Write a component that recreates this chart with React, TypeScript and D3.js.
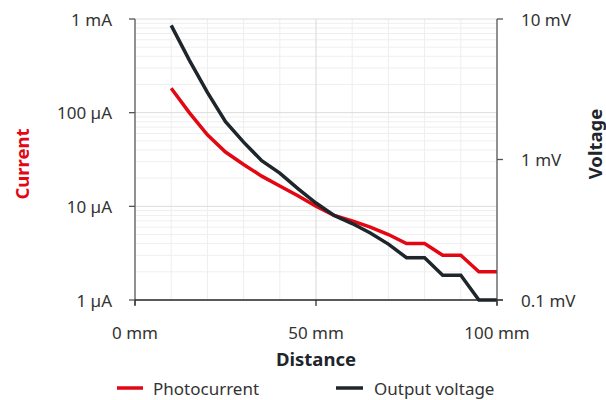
import React from "react";
import * as d3 from "d3";

const distances = [10, 15, 20, 25, 30, 35, 40, 45, 50, 55, 60, 65, 70, 75, 80, 85, 90, 95, 100];
const photocurrentUA = [182, 100, 58, 38, 28, 21, 16.5, 13, 10, 8, 7, 6, 5, 4, 4, 3, 3, 2, 2];
const outputVoltageMV = [9.0, 5.1, 3.0, 1.86, 1.33, 0.98, 0.8, 0.62, 0.49, 0.4, 0.35, 0.3, 0.25, 0.2, 0.2, 0.15, 0.15, 0.1, 0.1];

const xTicks = [0, 50, 100];
const xTickLabels = ["0 mm", "50 mm", "100 mm"];
const leftTicks = [1, 10, 100, 1000];
const leftTickLabels = ["1 µA", "10 µA", "100 µA", "1 mA"];
const rightTicks = [0.1, 1, 10];
const rightTickLabels = ["0.1 mV", "1 mV", "10 mV"];

const RED = "#e30613";
const DARK = "#1e252b";
const FONT = "'Noto Sans', 'Open Sans', sans-serif";

export default function App() {
  const W = 606, H = 400;
  const L = 135, R = 497, T = 19, B = 300;
  const x = d3.scaleLinear().domain([0, 100]).range([L, R]);
  const yL = d3.scaleLog().domain([1, 1000]).range([B, T]);
  const yR = d3.scaleLog().domain([0.1, 10]).range([B, T]);

  const minorL: number[] = [];
  for (const dec of [1, 10, 100]) for (let m = 2; m <= 9; m++) minorL.push(dec * m);
  const vGrid = d3.range(10, 100, 10);

  const lineI = d3.line<number>().x((_, i) => x(distances[i])).y((d) => yL(d));
  const lineV = d3.line<number>().x((_, i) => x(distances[i])).y((d) => yR(d));

  return (
    <svg width={W} height={H} style={{ position: "absolute", left: 0, top: 0 }} fontFamily={FONT}>
      <rect x={0} y={0} width={W} height={H} fill="#fff" />
      {minorL.map((v) => (
        <line key={"m" + v} x1={L} x2={R} y1={yL(v)} y2={yL(v)} stroke="#efefef" strokeWidth={1} />
      ))}
      {vGrid.map((v) => (
        <line key={"v" + v} x1={x(v)} x2={x(v)} y1={T} y2={B} stroke={v === 50 ? "#d8d8d8" : "#eeeeee"} strokeWidth={1} />
      ))}
      {leftTicks.slice(1).map((v) => (
        <line key={"M" + v} x1={L} x2={R} y1={yL(v)} y2={yL(v)} stroke="#dcdcdc" strokeWidth={1} />
      ))}

      <path d={lineI(photocurrentUA) || ""} fill="none" stroke={RED} strokeWidth={3.5} strokeLinejoin="miter" />
      <path d={lineV(outputVoltageMV) || ""} fill="none" stroke={DARK} strokeWidth={3.5} strokeLinejoin="miter" />

      <line x1={L} x2={L} y1={T} y2={B + 5} stroke="#555" strokeWidth={1.3} />
      <line x1={R} x2={R} y1={T} y2={B + 5} stroke="#555" strokeWidth={1.3} />
      <line x1={L} x2={R + 6} y1={B} y2={B} stroke="#222" strokeWidth={1.3} />
      {leftTicks.map((v, i) => (
        <g key={"lt" + v}>
          <line x1={L - 6} x2={L} y1={yL(v)} y2={yL(v)} stroke="#555" strokeWidth={1.3} />
          <text x={L - 23} y={yL(v)} textAnchor="end" dominantBaseline="central" fontSize={17} fill="#333">
            {leftTickLabels[i]}
          </text>
        </g>
      ))}
      {rightTicks.map((v, i) => (
        <g key={"rt" + v}>
          <line x1={R} x2={R + 6} y1={yR(v)} y2={yR(v)} stroke="#555" strokeWidth={1.3} />
          <text x={R + 24} y={yR(v)} textAnchor="start" dominantBaseline="central" fontSize={17} fill="#333">
            {rightTickLabels[i]}
          </text>
        </g>
      ))}
      {xTicks.map((v, i) => (
        <g key={"xt" + v}>
          <line x1={x(v)} x2={x(v)} y1={B} y2={B + 6} stroke="#333" strokeWidth={1.3} />
          <text x={x(v)} y={B + 32} textAnchor="middle" dominantBaseline="central" fontSize={17} fill="#333">
            {xTickLabels[i]}
          </text>
        </g>
      ))}

      <text transform={`translate(21,164) rotate(-90)`} textAnchor="middle" dominantBaseline="central" fontSize={18.5} fontWeight="bold" fill={RED}>
        Current
      </text>
      <text transform={`translate(594,144) rotate(-90)`} textAnchor="middle" dominantBaseline="central" fontSize={18.5} fontWeight="bold" fill={DARK}>
        Voltage
      </text>
      <text x={x(50)} y={358} textAnchor="middle" dominantBaseline="central" fontSize={18.5} fontWeight="bold" fill={DARK}>
        Distance
      </text>

      <line x1={117} x2={143} y1={388} y2={388} stroke={RED} strokeWidth={3.5} />
      <text x={153} y={388} dominantBaseline="central" fontSize={17} fill="#333">Photocurrent</text>
      <line x1={336} x2={363} y1={388} y2={388} stroke={DARK} strokeWidth={3.5} />
      <text x={374} y={388} dominantBaseline="central" fontSize={17} fill="#333">Output voltage</text>
    </svg>
  );
}
